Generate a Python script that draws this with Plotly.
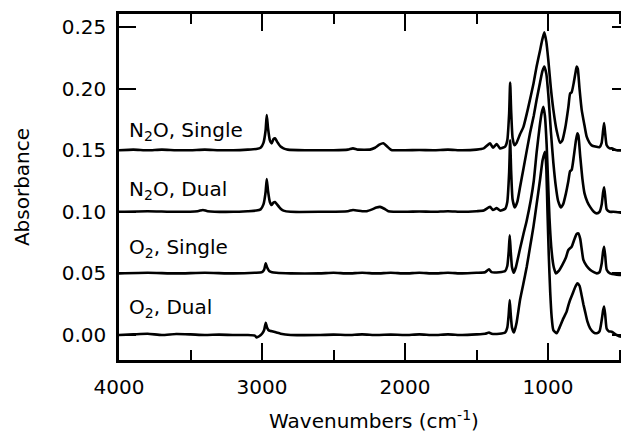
import plotly.graph_objects as go

# ---------------- data ----------------
n2o_single_wn = [4000, 3900, 3800, 3700, 3600, 3500, 3400, 3300, 3200, 3100, 3040, 3010, 2990, 2975, 2967, 2958,
                 2945, 2932, 2920, 2909, 2895, 2870, 2850, 2820, 2700, 2500, 2400, 2364, 2330, 2245, 2210, 2180,
                 2152, 2125, 2100, 2090, 2000, 1900, 1800, 1700, 1600, 1500, 1450, 1406, 1385, 1359, 1336, 1300,
                 1285, 1272, 1265, 1258, 1248, 1235, 1220, 1196, 1172, 1140, 1102, 1080, 1056, 1040, 1026, 1012,
                 998, 980, 963, 940, 916, 900, 880, 858, 846, 835, 820, 808, 800, 792, 780, 765, 745, 730, 710,
                 695, 670, 640, 625, 615, 608, 600, 590, 570, 555, 520, 480, 455, 440, 434]
n2o_single_abs = [0.150, 0.1505, 0.150, 0.1505, 0.150, 0.150, 0.1505, 0.150, 0.150, 0.1505, 0.151, 0.152, 0.156,
                  0.166, 0.1786, 0.168, 0.158, 0.1556, 0.159, 0.1597, 0.157, 0.153, 0.1515, 0.1505, 0.150, 0.150,
                  0.1505, 0.1515, 0.1505, 0.1505, 0.152, 0.1545, 0.1556, 0.153, 0.1505, 0.150, 0.150, 0.1502,
                  0.150, 0.1505, 0.150, 0.1505, 0.1515, 0.1556, 0.152, 0.155, 0.1515, 0.153, 0.158, 0.180, 0.205,
                  0.182, 0.160, 0.154, 0.156, 0.163, 0.169, 0.184, 0.204, 0.218, 0.231, 0.240, 0.2457, 0.238,
                  0.223, 0.200, 0.183, 0.166, 0.156, 0.158, 0.168, 0.185, 0.196, 0.197, 0.205, 0.213, 0.218,
                  0.216, 0.200, 0.183, 0.170, 0.161, 0.156, 0.154, 0.153, 0.1525, 0.156, 0.166, 0.172, 0.163,
                  0.154, 0.1515, 0.1515, 0.150, 0.150, 0.1505, 0.151, 0.152]

n2o_dual_wn = [4000, 3800, 3600, 3450, 3413, 3380, 3200, 3100, 3040, 3010, 2990, 2975, 2967, 2958, 2945, 2932,
               2920, 2909, 2895, 2870, 2850, 2800, 2600, 2400, 2364, 2300, 2268, 2230, 2200, 2175, 2145, 2117,
               2000, 1900, 1800, 1700, 1600, 1500, 1450, 1406, 1385, 1359, 1336, 1300, 1285, 1272, 1265, 1258,
               1248, 1232, 1215, 1196, 1172, 1126, 1100, 1080, 1056, 1040, 1026, 1012, 998, 980, 963, 945, 930,
               911, 895, 875, 858, 846, 835, 820, 805, 795, 788, 775, 760, 745, 725, 706, 680, 660, 640, 625,
               615, 608, 600, 590, 570, 545, 500, 475, 455, 440, 434]
n2o_dual_abs = [0.100, 0.1005, 0.100, 0.1005, 0.1015, 0.1005, 0.100, 0.1005, 0.101, 0.102, 0.106, 0.116, 0.1266,
                0.117, 0.108, 0.1055, 0.1075, 0.108, 0.106, 0.1025, 0.101, 0.100, 0.100, 0.1005, 0.1015, 0.1005,
                0.1005, 0.102, 0.1035, 0.104, 0.1025, 0.1005, 0.100, 0.1003, 0.100, 0.1005, 0.100, 0.1005, 0.101,
                0.104, 0.1015, 0.103, 0.101, 0.1025, 0.108, 0.132, 0.158, 0.133, 0.110, 0.1035, 0.108, 0.120,
                0.135, 0.164, 0.178, 0.191, 0.205, 0.214, 0.218, 0.212, 0.195, 0.165, 0.140, 0.120, 0.109, 0.1036,
                0.106, 0.115, 0.125, 0.133, 0.134, 0.145, 0.158, 0.1637, 0.162, 0.145, 0.127, 0.115, 0.108, 0.104,
                0.100, 0.0987, 0.100, 0.106, 0.116, 0.120, 0.112, 0.102, 0.100, 0.100, 0.0995, 0.099, 0.101,
                0.106, 0.108]

o2_single_wn = [4000, 3800, 3600, 3400, 3200, 3050, 3000, 2985, 2974, 2965, 2950, 2930, 2900, 2800, 2600, 2500,
                2400, 2300, 2200, 2100, 2000, 1900, 1800, 1700, 1600, 1500, 1440, 1413, 1395, 1340, 1300, 1285,
                1275, 1268, 1261, 1252, 1240, 1225, 1196, 1172, 1149, 1120, 1100, 1080, 1060, 1045, 1033, 1022,
                1010, 1000, 990, 975, 960, 945, 925, 900, 875, 858, 835, 815, 800, 788, 775, 765, 753, 730, 706,
                680, 659, 640, 625, 615, 608, 600, 590, 567, 520, 473, 450, 438, 434]
o2_single_abs = [0.050, 0.0505, 0.050, 0.0505, 0.050, 0.0505, 0.051, 0.053, 0.0582, 0.055, 0.052, 0.051, 0.0505,
                 0.050, 0.050, 0.0505, 0.050, 0.0505, 0.050, 0.0505, 0.050, 0.0505, 0.050, 0.0505, 0.050, 0.0505,
                 0.051, 0.0533, 0.051, 0.051, 0.052, 0.056, 0.068, 0.081, 0.068, 0.055, 0.0505, 0.055, 0.070,
                 0.082, 0.093, 0.110, 0.125, 0.148, 0.168, 0.180, 0.1853, 0.178, 0.155, 0.125, 0.095, 0.068, 0.055,
                 0.050, 0.052, 0.057, 0.063, 0.069, 0.0717, 0.078, 0.082, 0.0825, 0.078, 0.070, 0.061, 0.056,
                 0.053, 0.051, 0.050, 0.051, 0.058, 0.068, 0.0717, 0.064, 0.053, 0.050, 0.049, 0.0487, 0.050,
                 0.054, 0.055]

o2_dual_wn = [4000, 3900, 3800, 3700, 3600, 3500, 3400, 3300, 3200, 3100, 3050, 3037, 3020, 3000, 2985, 2974,
              2965, 2950, 2930, 2900, 2870, 2800, 2600, 2500, 2400, 2300, 2200, 2100, 2000, 1900, 1800, 1700,
              1600, 1500, 1440, 1413, 1395, 1340, 1300, 1285, 1275, 1268, 1261, 1252, 1238, 1220, 1196, 1172,
              1149, 1125, 1102, 1080, 1056, 1038, 1021, 1012, 1004, 995, 985, 975, 963, 939, 920, 893, 870, 858,
              846, 830, 810, 795, 780, 765, 753, 741, 725, 706, 680, 659, 640, 625, 615, 608, 600, 590, 575,
              555, 520, 485, 460, 440, 433]
o2_dual_abs = [0.000, 0.0005, 0.001, 0.000, 0.0008, 0.0005, 0.000, 0.0003, 0.000, 0.000, -0.0005, -0.002,
               -0.001, 0.001, 0.004, 0.0100, 0.006, 0.0035, 0.003, 0.002, 0.001, 0.000, 0.000, 0.0003, 0.000,
               0.0005, 0.000, 0.0003, 0.000, 0.0005, 0.000, 0.0005, 0.000, 0.0005, 0.001, 0.002, 0.001, 0.001,
               0.002, 0.006, 0.017, 0.0284, 0.017, 0.006, 0.002, 0.010, 0.0284, 0.042, 0.0554, 0.072, 0.088,
               0.106, 0.126, 0.142, 0.1488, 0.135, 0.100, 0.065, 0.035, 0.015, 0.004, 0.0014, 0.006, 0.0135,
               0.019, 0.024, 0.0284, 0.033, 0.039, 0.042, 0.040, 0.032, 0.025, 0.019, 0.011, 0.0054, 0.002,
               0.0014, 0.003, 0.012, 0.020, 0.023, 0.016, 0.005, 0.003, 0.0027, 0.000, -0.0014, -0.001, 0.003,
               0.004]

labels = ["N<sub>2</sub>O, Single", "N<sub>2</sub>O, Dual", "O<sub>2</sub>, Single", "O<sub>2</sub>, Dual"]
label_y = [0.166, 0.1177, 0.0706, 0.0219]
label_x = 3945

series = [(n2o_single_wn, n2o_single_abs), (n2o_dual_wn, n2o_dual_abs),
          (o2_single_wn, o2_single_abs), (o2_dual_wn, o2_dual_abs)]

FONT = "DejaVu Sans"

fig = go.Figure()
for (wn, ab), name in zip(series, labels):
    fig.add_trace(go.Scatter(x=wn, y=ab, mode="lines", name=name,
                             line=dict(color="black", width=2.6, shape="spline", smoothing=0.5),
                             showlegend=False))
# invisible trace to carry the right-hand mirrored ticks
fig.add_trace(go.Scatter(x=[4000], y=[0], yaxis="y2", mode="markers",
                         marker=dict(opacity=0), showlegend=False, hoverinfo="skip"))

for txt, yy in zip(labels, label_y):
    fig.add_annotation(x=label_x, y=yy, text=txt, showarrow=False, xanchor="left", yanchor="middle",
                       font=dict(family=FONT, size=20, color="black"))

fig.update_layout(
    width=621, height=426,
    margin=dict(l=111, r=0, t=6, b=74),
    paper_bgcolor="white", plot_bgcolor="white",
    font=dict(family=FONT, size=20, color="black"),
    xaxis=dict(range=[4000, 434], showgrid=False, zeroline=False,
               showline=True, linecolor="black", linewidth=2.5, mirror="ticks",
               ticks="inside", ticklen=17, tickwidth=2, tickcolor="black",
               tickvals=[4000, 3000, 2000, 1000], ticktext=["4000", "3000", "2000", "1000"],
               minor=dict(ticks="inside", ticklen=10, tickwidth=2, tickcolor="black", dtick=500),
               ticklabelstandoff=7,
               title=dict(text="Wavenumbers (cm<sup>-1</sup>)", standoff=17,
                          font=dict(family=FONT, size=20))),
    yaxis=dict(range=[-0.0203, 0.2606], showgrid=False, zeroline=False,
               showline=True, linecolor="black", linewidth=2.5, mirror=False,
               ticks="inside", ticklen=17, tickwidth=2, tickcolor="black",
               dtick=0.05, tick0=0, tickformat=".2f", ticklabelstandoff=6,
               title=dict(text="Absorbance", standoff=27, font=dict(family=FONT, size=20))),
    yaxis2=dict(overlaying="y", side="right", matches="y", range=[-0.0203, 0.2606],
                showgrid=False, zeroline=False, showline=False, showticklabels=False,
                ticks="inside", ticklen=17, tickwidth=2, tickcolor="black", dtick=0.05, tick0=0),
)

fig.write_html("out.html")
